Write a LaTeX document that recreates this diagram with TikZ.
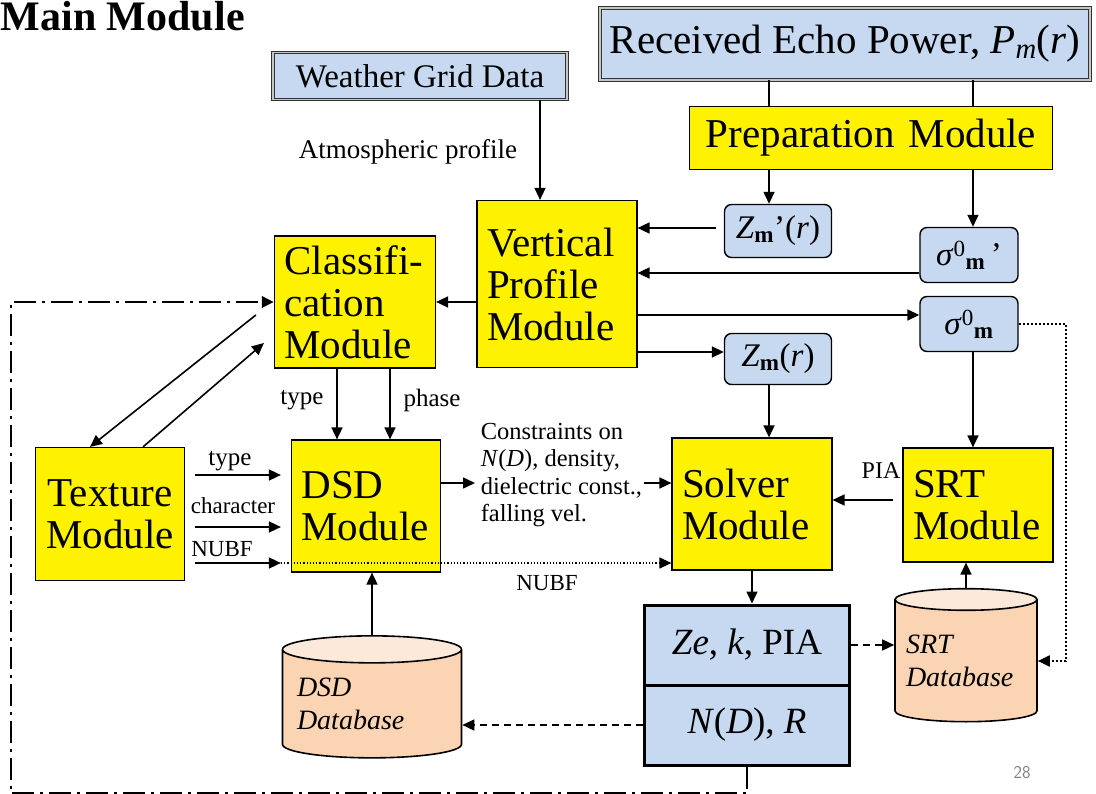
\documentclass[tikz,border=0pt]{standalone}
\usepackage{fontspec}
\setmainfont{Liberation Serif}
\usetikzlibrary{shapes.geometric,arrows.meta,calc}
\definecolor{boxblue}{HTML}{C6D9F1}
\definecolor{dbbody}{HTML}{FBD4B4}
\definecolor{dbtop}{HTML}{FDE9D9}
\newcommand\fmod{\fontsize{41}{42}\selectfont}
\newcommand\fsig{\fontsize{33}{36}\selectfont}
\newcommand\flab{\fontsize{25}{28}\selectfont}
\newcommand\fsmall{\fontsize{23}{26}\selectfont}
\newcommand\fout{\fontsize{37}{40}\selectfont}
\newcommand\fdb{\fontsize{28}{33}\selectfont}

\begin{document}
\begin{tikzpicture}[x=1pt,y=-1pt,>={Triangle[length=12pt,width=11pt]},line width=1.6pt,
  mod/.style={draw,fill=yellow,font=\fmod,align=left,inner xsep=10pt,inner ysep=0pt,line width=1.2pt},
  inbox/.style={draw=black!80,double=gray!45,double distance=1.5pt,line width=0.9pt,fill=boxblue,inner sep=0pt},
  val/.style={draw,fill=boxblue,rounded corners=7pt,font=\fsig,inner sep=0pt,line width=1.4pt},
  outbox/.style={draw,fill=boxblue,font=\fout,line width=3pt,minimum width=205pt,minimum height=80pt,inner sep=0pt},
  db/.style={cylinder,shape border rotate=90,aspect=0.18,draw,line width=1.6pt,cylinder uses custom fill,
    cylinder body fill=dbbody,cylinder end fill=dbtop,font=\fdb\itshape,align=left,inner sep=0pt},
  lab/.style={font=\flab,inner sep=1pt},
  fb/.style={line width=2.8pt,dash pattern=on 22pt off 6pt on 3pt off 6pt},
  dsh/.style={line width=1.4pt,dash pattern=on 7pt off 5pt}]
\useasboundingbox (0,0) rectangle (1096,794);

\node[anchor=base west,font=\fontsize{42}{44}\selectfont\bfseries,inner sep=0pt] (title) at (0,31) {Main Module};
\node[inbox,minimum width=490pt,minimum height=72pt,font=\fmod] (echo) at (845,44)
  {Received Echo Power, \textit{P}\textsubscript{\textit{m}}(\textit{r})};
\node[inbox,minimum width=294pt,minimum height=47pt,font=\fontsize{33}{36}\selectfont] (wgd) at (420,76) {Weather Grid Data};
\node[mod,text width=343pt,minimum height=63pt,align=center] (prep) at (871,138) {Preparation Module};

\node[val,minimum width=107pt,minimum height=53pt] (zp) at (778,231) {\textit{Z}\textsubscript{\textbf{m}}’(\textit{r})};
\node[val,minimum width=98pt,minimum height=55pt] (sp) at (969,255) {\textit{σ}\textsuperscript{0}\textsubscript{\textbf{m}}\,’};
\node[val,minimum width=98pt,minimum height=55pt] (sg) at (969,324) {\textit{σ}\textsuperscript{0}\textsubscript{\textbf{m}}};
\node[val,minimum width=107pt,minimum height=51pt] (zm) at (778,359) {\textit{Z}\textsubscript{\textbf{m}}(\textit{r})};

\node[mod,text width=140pt,minimum height=167pt] (vp) at (557,284) {Vertical\\Profile\\Module};
\node[mod,text width=141pt,minimum height=132pt] (cl) at (355,302) {Classifi-\\cation\\Module};
\node[mod,text width=129pt,minimum height=132pt] (dsd) at (366,506) {DSD\\Module};
\node[mod,text width=129pt,minimum height=133pt,align=center] (tx) at (110,514) {Texture\\Module};
\node[mod,text width=140pt,minimum height=132pt] (sv) at (752,504) {Solver\\Module};
\node[mod,text width=130pt,minimum height=114pt] (srt) at (978,505) {SRT\\Module};

\node[anchor=west,font=\fontsize{24.5}{27.5}\selectfont,align=left,inner sep=1pt] (cn) at (479,475)
  {Constraints on\\\textit{N}(\textit{D}), density,\\dielectric const.,\\falling vel.};

\node[db,minimum width=179pt,minimum height=122pt,text width=150pt] (dd) at (372,704) {DSD\\Database};
\node[db,minimum width=142pt,minimum height=133pt,text width=120pt] (sd) at (966,661) {SRT\\Database};

\node[outbox] (o1) at (747,645) {\textit{Ze}, \textit{k}, PIA};
\node[outbox] (o2) at (747,725) {\textit{N}(\textit{D}), \textit{R}};

\node[lab,font=\fontsize{27}{30}\selectfont] (atm) at (408,152) {Atmospheric profile};
\node[lab] (l1) at (302,400) {type};
\node[lab] (l2) at (432,400) {phase};
\node[lab] (l3) at (230,461) {type};
\node[lab,font=\fsmall] (l4) at (233,506) {character};
\node[lab,font=\fsmall] (l5) at (222,549) {NUBF};
\node[lab,font=\fsmall] (l6) at (547,583) {NUBF};
\node[lab,font=\fontsize{24}{26}\selectfont] (l7) at (881,471) {PIA};
\node[font=\sffamily\fontsize{18}{20}\selectfont,text=gray] (pg) at (1022,773) {28};

\coordinate (p1) at ($(prep.south west)!0.22!(prep.south east)$);
\coordinate (p2) at ($(prep.south west)!0.78!(prep.south east)$);
\coordinate (w1) at ($(vp.north)+(-17,0)$);
\coordinate (z1) at ($(zp.west)+(-8,-3)$);
\coordinate (s0) at ($(sp.west)+(0,18)$);
\coordinate (s1) at ($(sg.west)+(0,-9)$);
\coordinate (z2) at ($(zm.west)+(0,-7)$);
\coordinate (c1) at ($(cl.south)+(-18,0)$);
\coordinate (c2) at ($(cl.south)+(35,0)$);
\coordinate (t1) at ($(tx.north)+(-20,0)$);
\coordinate (t2) at ($(tx.north)+(33,0)$);
\coordinate (k1) at ($(cl.west)+(-18,13)$);
\coordinate (k2) at ($(cl.west)+(-10,41)$);
\coordinate (d1) at ($(dsd.east)+(0,-23)$);
\coordinate (r1) at ($(srt.west)+(-9,-5)$);
\coordinate (g1) at ($(sd.east)+(28,0)$);
\coordinate (f1) at ($(o2.south)+(0,27)$);
\coordinate (f2) at ($(cl.west)+(-263,0)$);

\draw (p1 |- echo.south) -- (p1 |- prep.north);
\draw (p2 |- echo.south) -- (p2 |- prep.north);
\draw[->] (p1) -- (p1 |- zp.north);
\draw[->] (p2) -- (p2 |- sp.north);
\draw[->] (w1 |- wgd.south) -- (w1);
\draw[->] (z1) -- (vp.east |- z1);
\draw[->] (s0) -- (vp.east |- s0);
\draw[->] (vp.east |- s1) -- (s1);
\draw[->] (vp.east |- z2) -- (z2);
\draw[->] (vp.west |- cl.east) -- (cl.east);
\draw[->] (c1) -- (c1 |- dsd.north);
\draw[->] (c2) -- (c2 |- dsd.north);
\draw[->] (k1) -- (t1);
\draw[->] (t2) -- (k2);
\foreach \y/\l in {-39/n1,13/n2,49/n3}
  \coordinate (\l) at ($(tx.east)+(10,\y)$);
\draw[->] (n1) -- ($(dsd.west |- n1)+(-10,0)$);
\draw[->] (n2) -- ($(dsd.west |- n2)+(-10,0)$);
\draw[->] (n3) -- ($(dsd.west |- n3)+(-10,0)$);
\draw[->,dotted,line width=1.2pt] ($(dsd.west |- n3)+(-10,0)$) -- (sv.west |- n3);
\draw[->] (d1) -- ($(cn.west |- d1)+(-4,0)$);
\draw[->] (cn.east |- d1) -- (sv.west |- d1);
\draw[->] (p1 |- zm.south) -- (p1 |- sv.north);
\draw[->] (p2 |- sg.south) -- (p2 |- srt.north);
\draw[->] (r1) -- (sv.east |- r1);
\draw[->] (sv.south) -- (sv.south |- o1.north);
\draw[->,dsh] (o1.east) -- (sd.west |- o1.east);
\draw[->,dsh] (o2.west) -- (dd.east |- o2.west);
\draw[->] (dd.north) -- (dd.north |- dsd.south);
\draw[->] (sd.north) -- (sd.north |- srt.south);
\draw[->,dotted,line width=2pt] (sg.east) -| (g1) -- (sd.east);
\draw[->,fb] (o2.south) -- (f1) -| (f2) -- (cl.west);
\end{tikzpicture}
\end{document}
